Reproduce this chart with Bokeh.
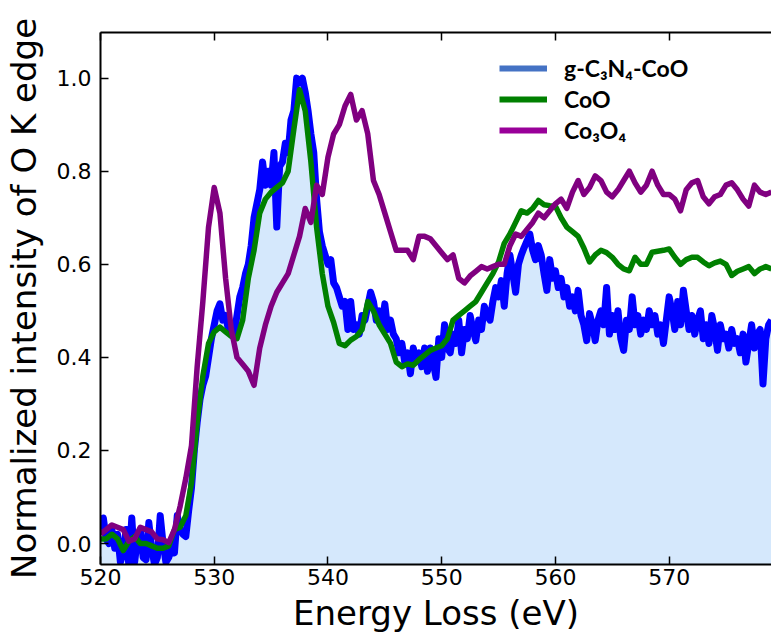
import numpy as np
from bokeh.plotting import figure
from bokeh.models import (Range1d, LinearAxis, FixedTicker, PrintfTickFormatter,
                          Legend, LegendItem)
from bokeh.embed import file_html
from bokeh.resources import INLINE

# ---------------- data ----------------
E_START = 520.0
BLUE_STEP = 0.25   # eV spacing of the g-C3N4-CoO spectrum
REF_STEP = 0.5     # eV spacing of the CoO / Co3O4 reference spectra

gc3n4_coo = [
    0.03, 0.055, 0.01, 0.0, 0.03, -0.01, 0.02, -0.04, -0.02, 0.03, -0.05, 0.055, -0.04, 0.01, 0.03, -0.03, -0.035, 0.045, -0.01, -0.045,
    -0.03, 0.06, 0.0, -0.04, -0.03, -0.01, -0.02, 0.06, 0.03, 0.02, 0.015, 0.07, 0.12, 0.2, 0.26, 0.31, 0.34, 0.36, 0.40, 0.44,
    0.47, 0.50, 0.515, 0.48, 0.49, 0.46, 0.47, 0.45, 0.49, 0.53, 0.55, 0.58, 0.60, 0.64, 0.70, 0.73, 0.76, 0.82, 0.77, 0.80,
    0.77, 0.84, 0.68, 0.81, 0.82, 0.86, 0.84, 0.91, 0.93, 1.0, 0.99, 1.0, 0.97, 0.93, 0.88, 0.84, 0.74, 0.67, 0.64, 0.62,
    0.60, 0.61, 0.56, 0.55, 0.53, 0.51, 0.52, 0.46, 0.52, 0.46, 0.47, 0.45, 0.49, 0.48, 0.51, 0.54, 0.52, 0.48, 0.50, 0.47,
    0.515, 0.46, 0.48, 0.45, 0.44, 0.41, 0.43, 0.39, 0.41, 0.365, 0.42, 0.39, 0.41, 0.38, 0.42, 0.37, 0.42, 0.39, 0.357, 0.44,
    0.40, 0.47, 0.42, 0.41, 0.45, 0.43, 0.48, 0.41, 0.46, 0.44, 0.49, 0.46, 0.436, 0.48, 0.46, 0.51, 0.49, 0.48, 0.52, 0.55,
    0.53, 0.565, 0.51, 0.58, 0.62, 0.58, 0.54, 0.60, 0.62, 0.636, 0.65, 0.665, 0.63, 0.61, 0.64, 0.62, 0.58, 0.544, 0.61, 0.57,
    0.586, 0.55, 0.57, 0.53, 0.55, 0.51, 0.53, 0.50, 0.544, 0.49, 0.47, 0.436, 0.494, 0.47, 0.436, 0.48, 0.50, 0.47, 0.55, 0.45,
    0.49, 0.46, 0.50, 0.44, 0.415, 0.48, 0.46, 0.53, 0.47, 0.49, 0.45, 0.48, 0.46, 0.50, 0.47, 0.49, 0.45, 0.47, 0.43, 0.48,
    0.53, 0.50, 0.46, 0.52, 0.47, 0.544, 0.50, 0.46, 0.49, 0.45, 0.48, 0.50, 0.44, 0.47, 0.43, 0.49, 0.46, 0.415, 0.47, 0.44,
    0.45, 0.42, 0.46, 0.43, 0.44, 0.41, 0.45, 0.39, 0.43, 0.47, 0.42, 0.45, 0.46, 0.343, 0.44, 0.47, 0.48,
]

coo = [
    0.01, 0.01, 0.02, 0.01, -0.015, 0.005, 0.015, 0.0, 0.0, -0.005,
    -0.01, -0.01, -0.005, 0.03, 0.035, 0.06, 0.13, 0.26, 0.36, 0.43,
    0.455, 0.465, 0.455, 0.445, 0.44, 0.48, 0.57, 0.63, 0.71, 0.74,
    0.755, 0.765, 0.775, 0.80, 0.89, 0.975, 0.93, 0.82, 0.68, 0.58,
    0.51, 0.475, 0.43, 0.425, 0.437, 0.445, 0.46, 0.52, 0.50, 0.47,
    0.45, 0.43, 0.39, 0.38, 0.386, 0.383, 0.395, 0.405, 0.415, 0.42,
    0.425, 0.44, 0.48, 0.49, 0.50, 0.51, 0.52, 0.54, 0.56, 0.58,
    0.605, 0.645, 0.665, 0.69, 0.715, 0.71, 0.72, 0.737, 0.728, 0.726,
    0.725, 0.70, 0.68, 0.67, 0.66, 0.635, 0.605, 0.62, 0.63, 0.625,
    0.615, 0.60, 0.59, 0.586, 0.615, 0.60, 0.60, 0.626, 0.628, 0.63,
    0.633, 0.615, 0.60, 0.61, 0.615, 0.615, 0.605, 0.597, 0.603, 0.607,
    0.60, 0.576, 0.585, 0.59, 0.595, 0.58, 0.59, 0.595, 0.59,
]

co3o4 = [
    0.02, 0.03, 0.04, 0.035, 0.03, 0.005, 0.01, 0.035, 0.03, 0.025,
    0.01, 0.008, 0.002, 0.03, 0.08, 0.14, 0.21, 0.38, 0.52, 0.68,
    0.765, 0.71, 0.57, 0.46, 0.40, 0.385, 0.37, 0.34, 0.42, 0.47,
    0.51, 0.54, 0.56, 0.58, 0.62, 0.66, 0.72, 0.69, 0.77, 0.75,
    0.83, 0.88, 0.90, 0.94, 0.965, 0.91, 0.93, 0.88, 0.78, 0.75,
    0.71, 0.67, 0.63, 0.63, 0.63, 0.61, 0.66, 0.66, 0.655, 0.64,
    0.625, 0.61, 0.62, 0.57, 0.56, 0.575, 0.585, 0.595, 0.59, 0.595,
    0.60, 0.60, 0.64, 0.665, 0.66, 0.675, 0.69, 0.71, 0.70, 0.715,
    0.73, 0.74, 0.72, 0.755, 0.78, 0.75, 0.765, 0.79, 0.78, 0.755,
    0.745, 0.76, 0.78, 0.80, 0.775, 0.755, 0.77, 0.80, 0.77, 0.75,
    0.75, 0.74, 0.715, 0.76, 0.775, 0.78, 0.745, 0.73, 0.745, 0.75,
    0.77, 0.775, 0.76, 0.74, 0.725, 0.77, 0.755, 0.75, 0.755,
]

series_labels = ["g-C\u2083N\u2084-CoO", "CoO", "Co\u2083O\u2084"]
x_ticks = [520, 530, 540, 550, 560, 570]
y_ticks = [0.0, 0.2, 0.4, 0.6, 0.8, 1.0]
x_title = "Energy Loss (eV)"
y_title = "Normalized intensity of O K edge"

# ---------------- layout ----------------
W, H = 771, 637
BL, BR, BT, BB = 100, 0, 32, 73
X0, X1 = 520.0, 579.0
Y0, Y1 = -0.045, 1.098

x_blue = E_START + BLUE_STEP * np.arange(len(gc3n4_coo))
x_coo = E_START + REF_STEP * np.arange(len(coo))
x_co3o4 = E_START + REF_STEP * np.arange(len(co3o4))

p = figure(width=W, height=H, output_backend="svg", toolbar_location=None,
           x_range=Range1d(X0, X1), y_range=Range1d(Y0, Y1),
           min_border_left=BL, min_border_right=BR, min_border_top=BT,
           min_border_bottom=BB, background_fill_color="white",
           border_fill_color="white", outline_line_color=None)
p.grid.visible = False

FONT = "DejaVu Sans"
for ax in (p.xaxis[0], p.yaxis[0]):
    ax.axis_line_width = 2
    ax.axis_line_color = "black"
    ax.major_tick_in = 8
    ax.major_tick_out = 0
    ax.major_tick_line_width = 1.5
    ax.major_tick_line_color = "black"
    ax.minor_tick_line_color = None
    ax.major_label_text_font = FONT
    ax.major_label_text_font_size = "22px"
    ax.major_label_text_color = "black"
    ax.axis_label_text_font = FONT
    ax.axis_label_text_font_size = "34px"
    ax.axis_label_text_font_style = "normal"
    ax.axis_label_text_color = "black"

p.xaxis.ticker = FixedTicker(ticks=x_ticks)
p.yaxis.ticker = FixedTicker(ticks=y_ticks)
p.yaxis.formatter = PrintfTickFormatter(format="%.1f")
p.xaxis.major_label_standoff = 4
p.yaxis.major_label_standoff = 9
p.xaxis.axis_label = x_title
p.xaxis.axis_label_standoff = 5
p.yaxis.axis_label = y_title
p.yaxis.axis_label_standoff = 10

top = LinearAxis(ticker=FixedTicker(ticks=x_ticks),
                 major_label_overrides={t: "" for t in x_ticks},
                 major_tick_in=8, major_tick_out=0, major_tick_line_width=1.5,
                 axis_line_width=2, minor_tick_line_color=None, major_label_standoff=0)
p.add_layout(top, "above")

# fill under the g-C3N4-CoO spectrum
p.varea(x=x_blue, y1=np.full(len(x_blue), Y0 - 0.2), y2=gc3n4_coo,
        fill_color="#D5E8FC")
p.line(x_blue, gc3n4_coo, line_color="#0000FF", line_width=7, line_join="round")
p.line(x_coo, coo, line_color="#008000", line_width=5.5, line_join="round")
p.line(x_co3o4, co3o4, line_color="#800080", line_width=5.5, line_join="round")

# legend proxies
r1 = p.line([np.nan], [np.nan], line_color="#4472C4", line_width=6)
r2 = p.line([np.nan], [np.nan], line_color="#008000", line_width=6)
r3 = p.line([np.nan], [np.nan], line_color="#990099", line_width=6)
legend = Legend(items=[LegendItem(label=series_labels[0], renderers=[r1]),
                       LegendItem(label=series_labels[1], renderers=[r2]),
                       LegendItem(label=series_labels[2], renderers=[r3])],
                location=(399, 420), padding=5, spacing=3, margin=0,
                glyph_width=48, glyph_height=28, label_height=28, label_standoff=17,
                label_text_font="Lato", label_text_font_style="bold",
                label_text_font_size="23px", label_text_color="black",
                background_fill_color="white", background_fill_alpha=1.0,
                border_line_color=None)
p.add_layout(legend, "center")

open("out.html", "w").write(file_html(p, INLINE))
